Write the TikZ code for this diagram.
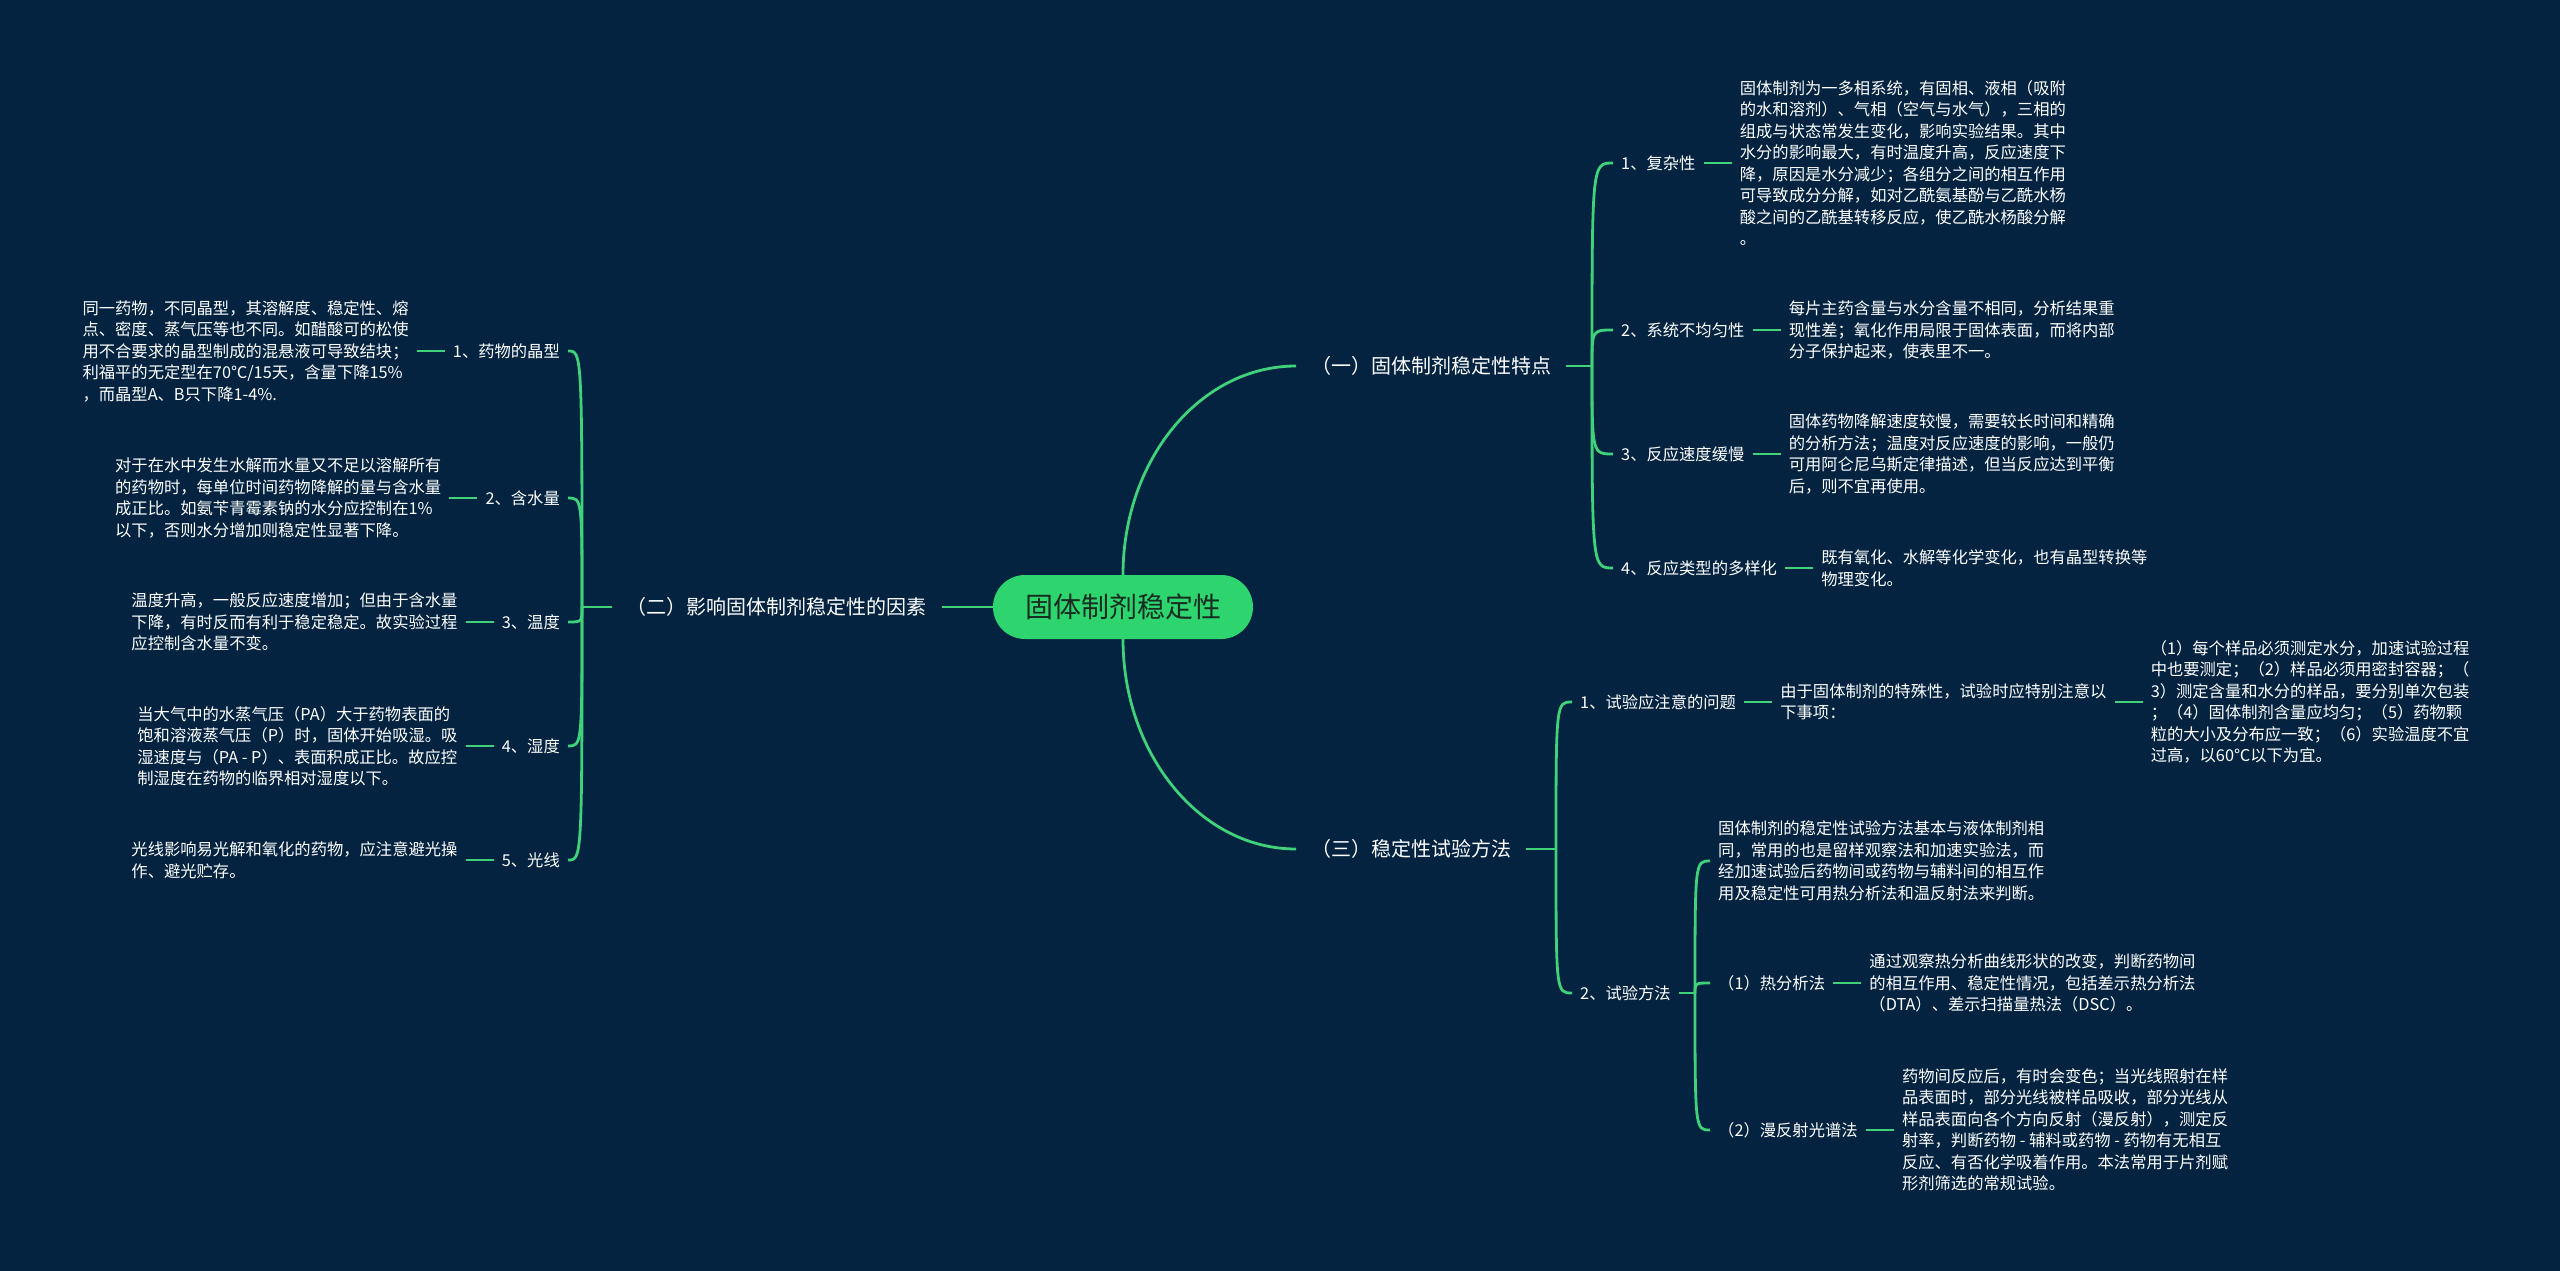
\documentclass[tikz,border=0pt]{standalone}
\usepackage{fontspec}
\newfontfamily\cjk{Noto Sans CJK SC}
\definecolor{mmnavy}{RGB}{3,35,64}
\definecolor{mmgreen}{RGB}{64,210,122}
\definecolor{mmroot}{RGB}{46,212,110}
\definecolor{mmdark}{RGB}{24,44,34}
\usetikzlibrary{positioning}
\begin{document}
\begin{tikzpicture}[x=1pt,y=-1pt,
  root/.style={fill=mmroot,rounded corners=32pt,minimum width=260pt,minimum height=64pt,text=mmdark,font={\cjk\fontsize{28pt}{32pt}\selectfont}},
  branch/.style={text=white,inner xsep=15pt,font={\cjk\fontsize{20pt}{24pt}\selectfont}},
  leaf/.style={text=white,inner xsep=8pt,inner ysep=2pt,font={\cjk\fontsize{16.3pt}{21.5pt}\selectfont}},
  note/.style={leaf,align=left},
  link/.style={mmgreen,line width=2.8pt}]
  \fill[mmnavy] (0,0) rectangle (2560,1271);
  \node[root] (root) at (1123,607) {固体制剂稳定性};
  \node[branch,anchor=west] (b1) at (1296,366) {（一）固体制剂稳定性特点};
  \node[branch,anchor=east] (b2) at (942,607) {（二）影响固体制剂稳定性的因素};
  \node[branch,anchor=west] (b3) at (1296,849) {（三）稳定性试验方法};
  \draw[link] (root.north) .. controls +(0,-115) and +(-96,0) .. (b1.west);
  \draw[link] (root.south) .. controls +(0,115) and +(-96,0) .. (b3.west);
  \draw[link] (root.west) -- (b2.east);

  % (一)
  \coordinate (s1) at (1592,366);
  \node[leaf,anchor=west] (c1) at (1613,163) {1、复杂性};
  \node[leaf,anchor=west] (c2) at (1613,330) {2、系统不均匀性};
  \node[leaf,anchor=west] (c3) at (1613,454) {3、反应速度缓慢};
  \node[leaf,anchor=west] (c4) at (1613,568) {4、反应类型的多样化};
  \node[note,right=28pt of c1] (c1t) {固体制剂为一多相系统，有固相、液相（吸附\\的水和溶剂）、气相（空气与水气），三相的\\组成与状态常发生变化，影响实验结果。其中\\水分的影响最大，有时温度升高，反应速度下\\降，原因是水分减少；各组分之间的相互作用\\可导致成分分解，如对乙酰氨基酚与乙酰水杨\\酸之间的乙酰基转移反应，使乙酰水杨酸分解\\。};
  \node[note,right=28pt of c2] (c2t) {每片主药含量与水分含量不相同，分析结果重\\现性差；氧化作用局限于固体表面，而将内部\\分子保护起来，使表里不一。};
  \node[note,right=28pt of c3] (c3t) {固体药物降解速度较慢，需要较长时间和精确\\的分析方法；温度对反应速度的影响，一般仍\\可用阿仑尼乌斯定律描述，但当反应达到平衡\\后，则不宜再使用。};
  \node[note,right=28pt of c4] (c4t) {既有氧化、水解等化学变化，也有晶型转换等\\物理变化。};
  \draw[link] (b1.east) -- (s1);
  \draw[link] (s1) .. controls (s1 |- c1.west) and (s1 |- c1.west) .. (c1.west);
  \draw[link] (s1) .. controls (s1 |- c2.west) and (s1 |- c2.west) .. (c2.west);
  \draw[link] (s1) .. controls (s1 |- c3.west) and (s1 |- c3.west) .. (c3.west);
  \draw[link] (s1) .. controls (s1 |- c4.west) and (s1 |- c4.west) .. (c4.west);
  \draw[link] (c1.east) -- (c1t.west);
  \draw[link] (c2.east) -- (c2t.west);
  \draw[link] (c3.east) -- (c3t.west);
  \draw[link] (c4.east) -- (c4t.west);

  % (二)
  \coordinate (s2) at (582,607);
  \node[leaf,anchor=east] (f1) at (568,351) {1、药物的晶型};
  \node[leaf,anchor=east] (f2) at (568,498) {2、含水量};
  \node[leaf,anchor=east] (f3) at (568,622) {3、温度};
  \node[leaf,anchor=east] (f4) at (568,746) {4、湿度};
  \node[leaf,anchor=east] (f5) at (568,860) {5、光线};
  \node[note,left=28pt of f1] (f1t) {同一药物，不同晶型，其溶解度、稳定性、熔\\点、密度、蒸气压等也不同。如醋酸可的松使\\用不合要求的晶型制成的混悬液可导致结块；\\利福平的无定型在70℃/15天，含量下降15\%\\，而晶型A、B只下降1-4\%.};
  \node[note,left=28pt of f2] (f2t) {对于在水中发生水解而水量又不足以溶解所有\\的药物时，每单位时间药物降解的量与含水量\\成正比。如氨苄青霉素钠的水分应控制在1\%\\以下，否则水分增加则稳定性显著下降。};
  \node[note,left=28pt of f3] (f3t) {温度升高，一般反应速度增加；但由于含水量\\下降，有时反而有利于稳定稳定。故实验过程\\应控制含水量不变。};
  \node[note,left=28pt of f4] (f4t) {当大气中的水蒸气压（PA）大于药物表面的\\饱和溶液蒸气压（P）时，固体开始吸湿。吸\\湿速度与（PA - P）、表面积成正比。故应控\\制湿度在药物的临界相对湿度以下。};
  \node[note,left=28pt of f5] (f5t) {光线影响易光解和氧化的药物，应注意避光操\\作、避光贮存。};
  \draw[link] (b2.west) -- (s2);
  \draw[link] (s2) .. controls (s2 |- f1.east) and (s2 |- f1.east) .. (f1.east);
  \draw[link] (s2) .. controls (s2 |- f2.east) and (s2 |- f2.east) .. (f2.east);
  \draw[link] (s2) .. controls (s2 |- f3.east) and (s2 |- f3.east) .. (f3.east);
  \draw[link] (s2) .. controls (s2 |- f4.east) and (s2 |- f4.east) .. (f4.east);
  \draw[link] (s2) .. controls (s2 |- f5.east) and (s2 |- f5.east) .. (f5.east);
  \draw[link] (f1.west) -- (f1t.east);
  \draw[link] (f2.west) -- (f2t.east);
  \draw[link] (f3.west) -- (f3t.east);
  \draw[link] (f4.west) -- (f4t.east);
  \draw[link] (f5.west) -- (f5t.east);

  % (三)
  \coordinate (s3) at (1556,849);
  \coordinate (s4) at (1695,993);
  \node[leaf,anchor=west] (t1) at (1572,702) {1、试验应注意的问题};
  \node[note,right=28pt of t1] (t1a) {由于固体制剂的特殊性，试验时应特别注意以\\下事项：};
  \node[note,right=28pt of t1a] (t1b) {（1）每个样品必须测定水分，加速试验过程\\中也要测定；（2）样品必须用密封容器；（\\3）测定含量和水分的样品，要分别单次包装\\；（4）固体制剂含量应均匀；（5）药物颗\\粒的大小及分布应一致；（6）实验温度不宜\\过高，以60℃以下为宜。};
  \node[leaf,anchor=west] (t2) at (1572,993) {2、试验方法};
  \node[note,anchor=west] (t2a) at (1710,861) {固体制剂的稳定性试验方法基本与液体制剂相\\同，常用的也是留样观察法和加速实验法，而\\经加速试验后药物间或药物与辅料间的相互作\\用及稳定性可用热分析法和温反射法来判断。};
  \node[leaf,anchor=west] (m1) at (1710,983) {（1）热分析法};
  \node[leaf,anchor=west] (m2) at (1710,1130) {（2）漫反射光谱法};
  \node[note,right=28pt of m1] (m1t) {通过观察热分析曲线形状的改变，判断药物间\\的相互作用、稳定性情况，包括差示热分析法\\（DTA）、差示扫描量热法（DSC）。};
  \node[note,right=28pt of m2] (m2t) {药物间反应后，有时会变色；当光线照射在样\\品表面时，部分光线被样品吸收，部分光线从\\样品表面向各个方向反射（漫反射），测定反\\射率，判断药物 - 辅料或药物 - 药物有无相互\\反应、有否化学吸着作用。本法常用于片剂赋\\形剂筛选的常规试验。};
  \draw[link] (b3.east) -- (s3);
  \draw[link] (s3) .. controls (s3 |- t1.west) and (s3 |- t1.west) .. (t1.west);
  \draw[link] (s3) .. controls (s3 |- t2.west) and (s3 |- t2.west) .. (t2.west);
  \draw[link] (t1.east) -- (t1a.west);
  \draw[link] (t1a.east) -- (t1b.west);
  \draw[link] (t2.east) -- (s4);
  \draw[link] (s4) .. controls (s4 |- t2a.west) and (s4 |- t2a.west) .. (t2a.west);
  \draw[link] (s4) .. controls (s4 |- m1.west) and (s4 |- m1.west) .. (m1.west);
  \draw[link] (s4) .. controls (s4 |- m2.west) and (s4 |- m2.west) .. (m2.west);
  \draw[link] (m1.east) -- (m1t.west);
  \draw[link] (m2.east) -- (m2t.west);
\end{tikzpicture}
\end{document}
